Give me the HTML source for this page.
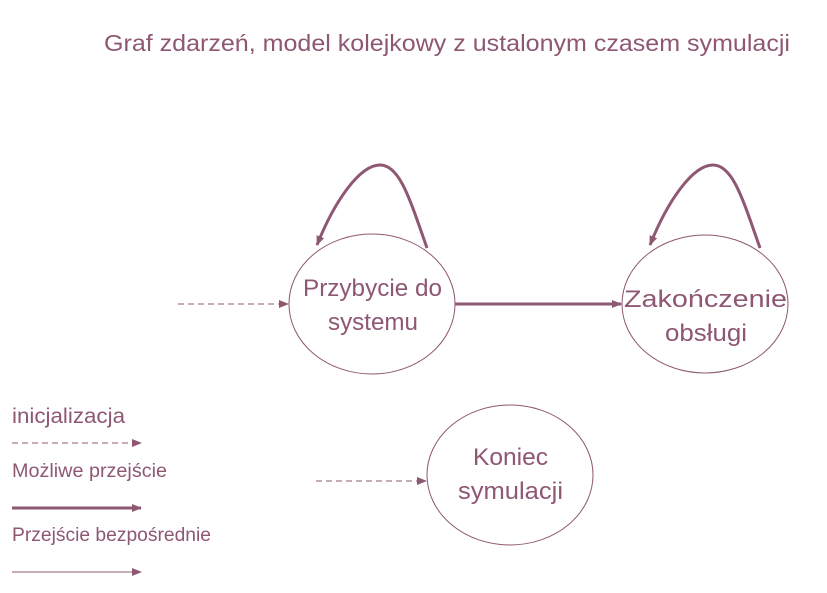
<!DOCTYPE html><html><head><style>body{margin:0;background:#fff}svg{display:block}text{font-family:"Liberation Sans",sans-serif;fill:#8e5772}</style></head><body>
<svg width="827" height="593" viewBox="0 0 827 593">
<defs><marker id="a" markerWidth="10" markerHeight="8" refX="9" refY="4" orient="auto" markerUnits="userSpaceOnUse"><path d="M0,0L10,4L0,8z" fill="#8e5772"/></marker></defs>
<g stroke="#8e5772" fill="none">
<ellipse cx="372" cy="304" rx="83" ry="70" stroke-width="1"/>
<ellipse cx="705" cy="304" rx="83" ry="69" stroke-width="1"/>
<ellipse cx="510" cy="475" rx="83" ry="70" stroke-width="1"/>
<path d="M427,248C410,200 400,165 380,165C360,165 335,200 317,245" stroke-width="3" marker-end="url(#a)"/>
<path d="M760,248C743,200 733,165 713,165C693,165 668,200 650,245" stroke-width="3" marker-end="url(#a)"/>
<line x1="455" y1="304" x2="621" y2="304" stroke-width="3" marker-end="url(#a)"/>
<line x1="178" y1="304" x2="288" y2="304" stroke-dasharray="6,4" marker-end="url(#a)"/>
<line x1="316" y1="481" x2="426" y2="481" stroke-dasharray="6,4" marker-end="url(#a)"/>
<line x1="12" y1="443" x2="141" y2="443" stroke-dasharray="6,4" marker-end="url(#a)"/>
<line x1="12" y1="508" x2="141" y2="508" stroke-width="3" marker-end="url(#a)"/>
<line x1="12" y1="572" x2="141" y2="572" marker-end="url(#a)"/>
</g>
<text x="104" y="51" font-size="23" textLength="686" lengthAdjust="spacingAndGlyphs">Graf zdarzeń, model kolejkowy z ustalonym czasem symulacji</text>
<g font-size="24">
<text x="303" y="296" textLength="139" lengthAdjust="spacingAndGlyphs">Przybycie do</text>
<text x="328" y="330" textLength="90" lengthAdjust="spacingAndGlyphs">systemu</text>
<text x="624" y="307" textLength="163" lengthAdjust="spacingAndGlyphs">Zakończenie</text>
<text x="665" y="341" textLength="82" lengthAdjust="spacingAndGlyphs">obsługi</text>
<text x="473" y="465" textLength="75" lengthAdjust="spacingAndGlyphs">Koniec</text>
<text x="458" y="499" textLength="105" lengthAdjust="spacingAndGlyphs">symulacji</text>
</g>
<text x="12" y="423" font-size="21" textLength="113" lengthAdjust="spacingAndGlyphs">inicjalizacja</text>
<text x="12" y="477" font-size="19" textLength="155" lengthAdjust="spacingAndGlyphs">Możliwe przejście</text>
<text x="12" y="541" font-size="19" textLength="199" lengthAdjust="spacingAndGlyphs">Przejście bezpośrednie</text>
</svg></body></html>
